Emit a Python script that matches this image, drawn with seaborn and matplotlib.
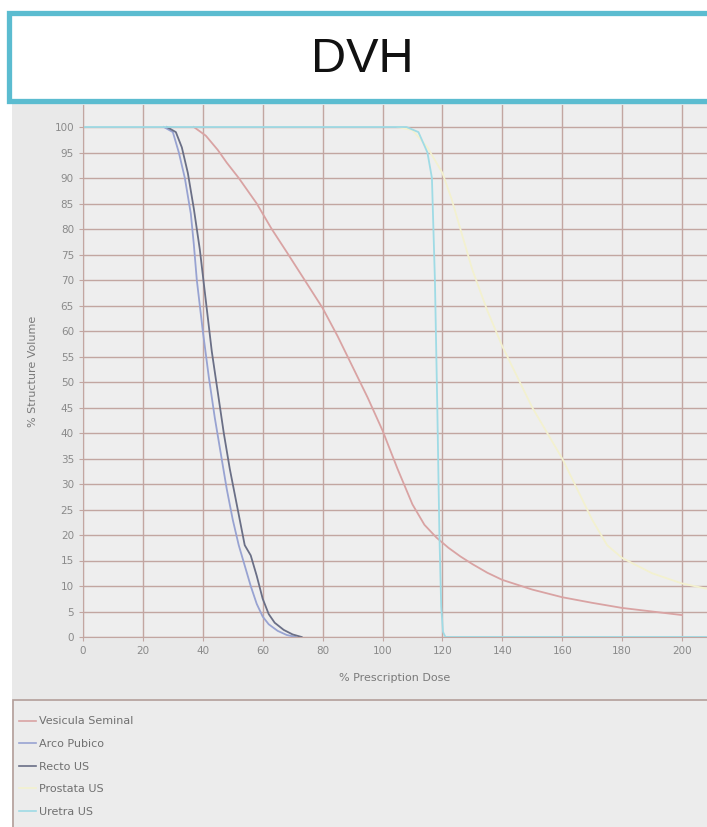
import numpy as np
import pandas as pd
import matplotlib
matplotlib.use("Agg")
import matplotlib.pyplot as plt
from matplotlib.patches import Rectangle
from matplotlib.lines import Line2D
import seaborn as sns

# Curvas DVH (% dosis prescrita, % volumen)
estructuras = ["Vesicula Seminal", "Arco Pubico", "Recto US", "Prostata US", "Uretra US"]

dosis_vesicula = [37, 41, 45, 48, 52, 58, 63, 68, 74, 80, 85, 90, 95, 100, 105, 110, 114, 118,
                  122, 126, 130, 135, 140, 150, 160, 170, 180, 190, 200]
vol_vesicula = [100, 98.3, 95.5, 93, 90, 85, 80, 75.5, 70, 64.5, 59, 53, 47, 40.5, 33, 26, 22, 19.5,
                17.5, 15.8, 14.3, 12.6, 11.2, 9.3, 7.8, 6.7, 5.7, 5.0, 4.3]

dosis_arco = [27, 30, 32, 34, 36, 37, 38, 40, 42, 44, 46, 48, 50, 52, 54, 56, 58, 60, 62, 65, 68, 71]
vol_arco = [100, 99, 95, 90, 83, 77, 70, 60, 51, 43, 36, 29, 23, 18, 14, 10, 6.5, 4, 2.5, 1.2, 0.4, 0]

dosis_recto = [28, 31, 33, 35, 37, 39, 41, 43, 45, 47, 49, 51, 53, 54, 56, 58, 60, 62, 64, 67, 70, 73]
vol_recto = [100, 99, 96, 91, 84, 76, 66, 56, 48, 40, 33, 27, 21, 18, 16, 12, 7.5, 4.5, 2.8, 1.4, 0.5, 0]

dosis_prostata = [105, 110, 115, 120, 123, 126, 130, 135, 140, 145, 150, 155, 160, 165, 170,
                  175, 180, 190, 200, 208]
vol_prostata = [100, 99.4, 96, 91, 86, 80, 72, 64, 57, 51, 45, 40, 35, 29, 23, 18, 15.5, 12.5, 10.5, 9.5]

dosis_uretra = [0, 108, 112, 115, 116.5, 117.5, 118.3, 119, 119.6, 120.2, 121, 208]
vol_uretra = [100, 100, 99, 95, 90, 70, 45, 20, 6, 1, 0, 0]

colores = ["#d9a3a3", "#98a3d2", "#6a6f86", "#f3f1cf", "#9fdbe5"]

ticks_x = [0, 20, 40, 60, 80, 100, 120, 140, 160, 180, 200]
ticks_y = list(range(0, 101, 5))

# Tabla larga para seaborn
df = pd.concat([
    pd.DataFrame({"dosis": d, "volumen": v, "estructura": e})
    for e, d, v in zip(estructuras,
                       [dosis_vesicula, dosis_arco, dosis_recto, dosis_prostata, dosis_uretra],
                       [vol_vesicula, vol_arco, vol_recto, vol_prostata, vol_uretra])
])

W, H = 707, 827
fig = plt.figure(figsize=(W / 100, H / 100), dpi=100, facecolor="white")

# Panel gris de fondo
fig.add_artist(Rectangle((12 / W, 0), 1, 1 - 103 / H, transform=fig.transFigure,
                         facecolor="#e9e9e9", edgecolor="none", zorder=0))

# Caja del titulo
fig.add_artist(Rectangle((9 / W, 1 - 101 / H), 1.05, 88 / H, transform=fig.transFigure,
                         facecolor="white", edgecolor="#5bbcd0", linewidth=3.8, zorder=1))
fig.text(362 / W, 1 - 60 / H, "DVH", ha="center", va="center", fontsize=35,
         family="Liberation Sans", color="#111111", zorder=2)

# Ejes
ax = fig.add_axes([83 / W, 1 - 637 / H, (W - 83) / W, (637 - 105) / H])
ax.set_facecolor("#eeeeee")

sns.lineplot(data=df, x="dosis", y="volumen", hue="estructura", hue_order=estructuras,
             palette=dict(zip(estructuras, colores)), estimator=None, sort=False,
             linewidth=1.3, legend=False, ax=ax)

ax.set_xlim(0, (W - 83) / 2.995)
ax.set_ylim(0, 100 + (127 - 105) / 5.1)
ax.set_xticks(ticks_x)
ax.set_yticks(ticks_y)
ax.grid(True, color="#c2a6a1", linewidth=1.0)
ax.set_axisbelow(True)
for s in ["top", "right"]:
    ax.spines[s].set_visible(False)
for s in ["left", "bottom"]:
    ax.spines[s].set_color("#c2a6a1")
ax.tick_params(colors="#c2a6a1", labelcolor="#8a8a8a", labelsize=7.5, length=3)
ax.set_xlabel("% Prescription Dose", fontsize=8, color="#7a7a7a", labelpad=12)
ax.set_ylabel("% Structure Volume", fontsize=8, color="#7a7a7a", labelpad=12)

# Caja de la leyenda
fig.add_artist(Rectangle((13 / W, -0.05), 1.05, 1 - 700 / H + 0.05,
                         transform=fig.transFigure, facecolor="#ececec",
                         edgecolor="#b39f9a", linewidth=1.2, zorder=1))
handles = [Line2D([], [], color=c, linewidth=1.2) for c in colores]
leg = fig.legend(handles, estructuras, loc="upper left", bbox_to_anchor=(15 / W, 1 - 712 / H),
                 frameon=False, fontsize=8, handlelength=1.5, handletextpad=0.25,
                 labelspacing=1.13, borderaxespad=0)
for t in leg.get_texts():
    t.set_color("#707070")

fig.savefig("out.png", dpi=100)
